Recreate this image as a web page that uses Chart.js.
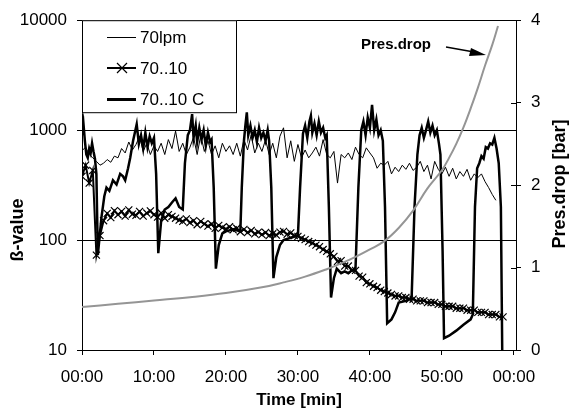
<!DOCTYPE html>
<html>
<head>
<meta charset="utf-8">
<script src="https://cdn.jsdelivr.net/npm/chart.js@4.4.0/dist/chart.umd.min.js"></script>
<style>
html, body { margin: 0; padding: 0; background: #fff; }
</style>
</head>
<body>
<canvas id="chart-beta-value" width="570" height="414"></canvas>
<script>
// 70lpm, one reading every half minute from 00:00
const lpmStart = 0;
const lpmStep = 0.5;
const lpmValues = [
    650, 700, 600, 560, 520, 480, 500, 540, 510, 580,
    560, 680, 620, 780, 660, 740, 880, 640, 760, 600,
    720, 640, 760, 600, 820, 680, 980, 640, 760, 600,
    700, 860, 600, 900, 640, 800, 600, 720, 560, 760,
    640, 720, 600, 760, 580, 820, 660, 900, 620, 760,
    640, 820, 600, 760, 560, 880, 1050, 560, 800, 520,
    740, 560, 660, 560, 620, 700, 580, 820, 600, 560,
    640, 330, 600, 560, 620, 540, 700, 600, 560, 690,
    620, 560, 450, 500, 480, 520, 400, 460, 420, 480,
    440, 500, 430, 460, 520, 420, 480, 360, 520, 440,
    400, 460, 380, 450, 360, 420, 380, 440, 350, 400,
    370, 400, 340, 300, 260, 230
];

// 70..10, same half-minute readings
const stepStart = 0;
const stepStep = 0.5;
const stepValues = [
    380, 480, 330, 430, 73, 110, 150, 175, 160, 185,
    170, 182, 165, 188, 172, 168, 182, 165, 176, 184,
    170, 162, 176, 158, 170, 164, 158, 152, 148, 156,
    144, 150, 138, 148, 140, 134, 140, 128, 136, 130,
    126, 132, 124, 128, 119, 125, 117, 122, 114, 118,
    112, 117, 110, 114, 111, 118, 120, 113, 116, 110,
    108, 104, 101, 97, 94, 90, 87, 82, 79, 75,
    71, 64, 65, 58, 58, 53, 53, 47, 46, 41,
    40, 38, 37, 35, 34, 33, 32, 31, 31, 30,
    30, 29, 29, 28, 28, 28, 27, 27, 27, 26,
    26, 25, 25, 25, 24, 24, 24, 23, 23, 23,
    22, 22, 22, 21, 21, 21, 20, 20
];

// 70..10 C
const cTimes = [
    0, 0.2, 0.4, 0.6, 0.8, 1.0, 1.2, 1.4, 1.6, 1.8, 2.0, 2.2,
    2.7, 3.1, 3.4, 3.8, 4.3, 4.8, 5.3, 5.7, 6.0, 6.4, 6.7, 7.1, 7.6,
    7.9, 8.2, 8.5, 8.8, 9.1, 9.4, 9.7, 10.0, 10.3, 10.6,
    11.0, 11.5, 12.0, 12.5, 13.0, 13.5, 14.0,
    14.3, 14.7, 15.0, 15.3, 15.5, 15.8, 16.0, 16.3, 16.6, 16.9, 17.2, 17.5, 17.8, 18.0, 18.3, 18.6,
    19.0, 19.5, 20.0, 21.0, 22.0,
    22.2, 22.5, 22.7, 22.9, 23.1, 23.4, 23.7, 24.0, 24.3, 24.6, 24.9, 25.2, 25.5, 25.8, 26.0, 26.3, 26.6,
    27.0, 27.5, 28.0, 29.0, 30.0,
    30.3, 30.7, 31.0, 31.3, 31.6, 31.8, 32.0, 32.3, 32.6, 32.9, 33.2, 33.5, 33.8, 34.0, 34.3, 34.6,
    35.0, 35.4, 36.0, 36.5, 37.0, 37.5, 38.0,
    38.4, 38.8, 39.1, 39.4, 39.7, 40.0, 40.3, 40.6, 40.9, 41.2, 41.5, 41.8, 42.1, 42.4,
    43.0, 43.5, 44.0, 45.0, 45.8,
    46.2, 46.6, 46.9, 47.2, 47.5, 47.8, 48.1, 48.4, 48.7, 49.0, 49.3, 49.6, 49.8, 50.1, 50.3,
    51.0, 52.0, 53.0, 54.0, 54.3,
    54.6, 54.9, 55.2, 55.5, 55.8, 56.1, 56.4, 56.7, 57.0, 57.3, 57.6, 57.9, 58.2, 58.4
];
const cValues = [
    900, 1150, 800, 600, 560, 680, 620, 760, 640, 550, 400, 73,
    160, 250, 300, 280, 350, 320, 400, 380, 350, 450, 560, 800, 1130,
    750, 900, 680, 950, 700, 880, 760, 850, 400, 76,
    150, 190, 200, 220, 240, 200, 190,
    500, 900, 1000, 1400, 850, 1100, 780, 1050, 820, 1000, 720, 950, 780, 820, 300, 55,
    90, 115, 120, 125, 120,
    300, 800, 1100, 1450, 900, 1100, 850, 1000, 780, 1050, 850, 950, 800, 1000, 800, 300, 45,
    70, 90, 100, 105, 110,
    300, 930, 1100, 850, 1200, 1350, 950, 1150, 900, 1200, 950, 1050, 850, 900, 200, 30,
    45, 55, 50, 52, 50, 53, 55,
    300, 1000, 1200, 900, 1300, 1050, 1700, 1000, 1250, 900, 1000, 800, 200, 17.5,
    19, 22, 27, 28, 30,
    200, 600, 900, 1050, 850, 1000, 1200, 950, 1100, 900, 1000, 750, 600, 80, 12.8,
    13.5, 15, 17, 19, 21,
    200, 450, 500, 580, 550, 700, 680, 760, 740, 850, 680, 500, 200, 8
];

// Pres.drop [bar]
const pdTimes = [0, 5, 10, 15, 20, 25, 28, 31, 34, 36, 38, 40, 42, 44, 46, 48, 50, 51, 52, 53, 54, 55, 56, 57, 57.8];
const pdValues = [0.52, 0.56, 0.60, 0.64, 0.69, 0.76, 0.82, 0.89, 0.98, 1.05, 1.13, 1.22, 1.32, 1.48, 1.69, 1.96, 2.18, 2.33, 2.5, 2.7, 2.93, 3.18, 3.45, 3.7, 3.93];

const xTicks = [0, 10, 20, 30, 40, 50, 60];
const betaTicks = [10, 100, 1000, 10000];
const seriesLabels = ['70lpm', '70..10', '70..10 C', 'Pres.drop'];

const FONT = '"Liberation Sans", Arial, sans-serif';

function evenPoints(start, step, values) {
    return values.map((v, i) => ({ x: start + i * step, y: v }));
}
function pairPoints(times, values) {
    return times.map((t, i) => ({ x: t, y: values[i] }));
}

const extras = {
    id: 'extras',
    afterDraw(chart) {
        const c = chart.ctx;
        const area = chart.chartArea;
        const y2 = chart.scales.y2;
        c.save();
        c.strokeStyle = '#000';
        c.lineWidth = 1;

        // right axis ticks cross the axis line
        y2.ticks.forEach(t => {
            const py = Math.round(y2.getPixelForValue(t.value)) + 0.5;
            c.beginPath();
            c.moveTo(area.right - 5, py);
            c.lineTo(area.right, py);
            c.stroke();
        });

        // axis titles
        c.fillStyle = '#000';
        c.textAlign = 'center';
        c.textBaseline = 'middle';
        c.font = 'bold 18px ' + FONT;
        c.save();
        c.translate(18, 230);
        c.rotate(-Math.PI / 2);
        c.fillText('ß-value', 0, 0);
        c.restore();
        c.save();
        c.translate(560, 184);
        c.rotate(-Math.PI / 2);
        c.fillText('Pres.drop [bar]', 0, 0);
        c.restore();

        // legend box
        c.fillStyle = '#fff';
        c.fillRect(area.left, area.top, 155, 93);
        c.strokeRect(area.left + 0.5, area.top + 0.5, 154, 92);
        const rows = [37.5, 68, 99.5];
        const widths = [1, 2, 3];
        c.font = '17px ' + FONT;
        c.textAlign = 'left';
        for (let i = 0; i < 3; i++) {
            const y = rows[i];
            c.lineWidth = widths[i];
            c.beginPath();
            c.moveTo(107, y);
            c.lineTo(136, y);
            c.stroke();
            if (i === 1) {
                c.lineWidth = 1.2;
                c.beginPath();
                c.moveTo(117, y - 5); c.lineTo(127, y + 5);
                c.moveTo(127, y - 5); c.lineTo(117, y + 5);
                c.stroke();
            }
            c.fillStyle = '#000';
            c.fillText(chart.data.datasets[i].label, 140, y + 1);
        }

        // Pres.drop pointer
        c.font = 'bold 15px ' + FONT;
        c.textAlign = 'center';
        c.fillText('Pres.drop', 396, 45);
        c.lineWidth = 1.5;
        c.beginPath();
        c.moveTo(446, 47);
        c.lineTo(474, 52);
        c.stroke();
        c.beginPath();
        c.moveTo(486, 55);
        c.lineTo(471, 48);
        c.lineTo(469, 56);
        c.closePath();
        c.fill();
        c.restore();
    }
};

function loadChartBetaValue() {
    const ctx = document.getElementById('chart-beta-value').getContext('2d');
    const myChart = new Chart(ctx, {
        type: 'line',
        data: {
            datasets: [{
                    label: seriesLabels[0],
                    data: evenPoints(lpmStart, lpmStep, lpmValues),
                    borderColor: '#000',
                    borderWidth: 1,
                    pointRadius: 0,
                    yAxisID: 'y',
                    order: 4
                }, {
                    label: seriesLabels[1],
                    data: evenPoints(stepStart, stepStep, stepValues),
                    borderColor: '#000',
                    borderWidth: 2,
                    pointStyle: 'crossRot',
                    pointRadius: 5,
                    pointBorderWidth: 1.2,
                    pointBorderColor: '#000',
                    yAxisID: 'y',
                    order: 3
                }, {
                    label: seriesLabels[2],
                    data: pairPoints(cTimes, cValues),
                    borderColor: '#000',
                    borderWidth: 2.5,
                    pointRadius: 0,
                    yAxisID: 'y',
                    order: 2
                }, {
                    label: seriesLabels[3],
                    data: pairPoints(pdTimes, pdValues),
                    borderColor: '#959595',
                    borderWidth: 2,
                    pointRadius: 0,
                    tension: 0.4,
                    yAxisID: 'y2',
                    order: 1
                }]
        },
        options: {
            responsive: false,
            animation: false,
            devicePixelRatio: 1,
            layout: { padding: { top: 19, left: 0, right: 0, bottom: 0 } },
            plugins: {
                legend: { display: false },
                tooltip: { enabled: false }
            },
            scales: {
                x: {
                    type: 'linear',
                    min: 0,
                    max: 60.3,
                    afterBuildTicks: s => { s.ticks = xTicks.map(v => ({ value: v })); },
                    afterFit: s => { s.height = 64; },
                    grid: { drawOnChartArea: false, color: '#000', tickLength: 5 },
                    border: { color: '#000', width: 1 },
                    ticks: {
                        color: '#000',
                        font: { family: FONT, size: 17 },
                        padding: 12,
                        maxRotation: 0,
                        autoSkip: false,
                        callback: v => String(Math.round(v) % 60).padStart(2, '0') + ':00'
                    },
                    title: {
                        display: true,
                        text: 'Time [min]',
                        color: '#000',
                        font: { family: FONT, size: 17, weight: 'bold' },
                        padding: { top: 0, bottom: 3 }
                    }
                },
                y: {
                    type: 'logarithmic',
                    position: 'left',
                    min: 10,
                    max: 10000,
                    afterBuildTicks: s => { s.ticks = betaTicks.map(v => ({ value: v })); },
                    afterFit: s => { s.width = 82; },
                    grid: { color: '#000', tickLength: 5 },
                    border: { color: '#000', width: 1 },
                    ticks: {
                        color: '#000',
                        font: { family: FONT, size: 17 },
                        padding: 10,
                        callback: v => String(v)
                    }
                },
                y2: {
                    type: 'linear',
                    position: 'right',
                    min: 0,
                    max: 4,
                    afterFit: s => { s.width = 54; },
                    grid: { drawOnChartArea: false, color: '#000', tickLength: 5 },
                    border: { color: '#000', width: 1 },
                    ticks: {
                        stepSize: 1,
                        color: '#000',
                        font: { family: FONT, size: 17 },
                        padding: 10
                    }
                }
            }
        },
        plugins: [extras]
    });
}

loadChartBetaValue();
</script>
</body>
</html>
